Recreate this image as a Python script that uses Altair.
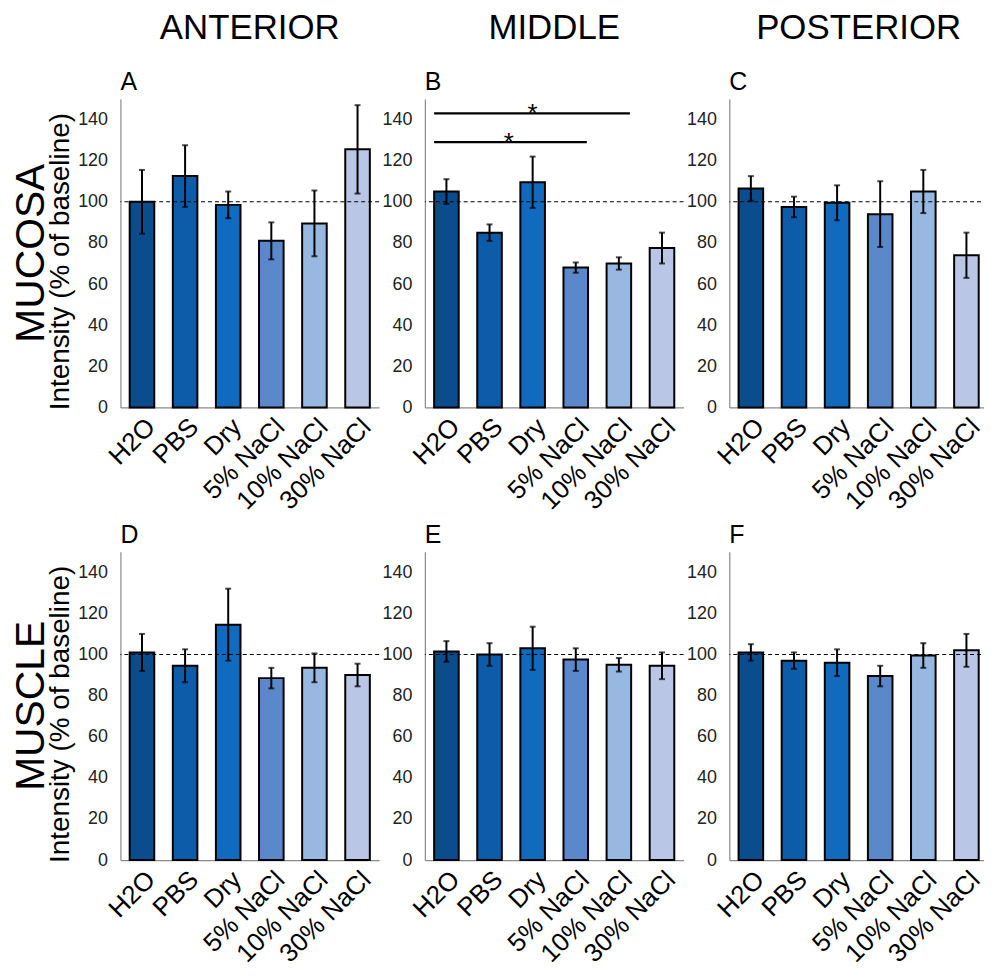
import altair as alt
import pandas as pd

categories = ["H2O", "PBS", "Dry", "5% NaCl", "10% NaCl", "30% NaCl"]
colors = ["#0B4C8C", "#0C5CA9", "#106BBF", "#5B88CB", "#97B8E0", "#BAC6E6"]

regions = ["ANTERIOR", "MIDDLE", "POSTERIOR"]
tissues = ["MUCOSA", "MUSCLE"]
letters = ["A", "B", "C", "D", "E", "F"]

means_A = [100, 112.5, 98.5, 81, 89.5, 125.5]
err_A = [15.5, 15, 6.5, 9, 16, 21.5]
means_B = [105, 85, 109.5, 68, 70, 77.5]
err_B = [6, 4, 12.5, 2.5, 3, 7.5]
means_C = [106.5, 97.5, 99.5, 94, 105, 74]
err_C = [6, 5, 8.5, 16, 10.5, 11]
means_D = [101, 94.5, 114.5, 88.5, 93.5, 90]
err_D = [9, 8, 17.5, 5, 7, 5.5]
means_E = [101.5, 100, 103, 97.5, 95, 94.5]
err_E = [5, 5.5, 10.5, 5.5, 3.3, 6.5]
means_F = [101, 97, 96, 89.5, 99.5, 102]
err_F = [4, 4, 6.5, 5, 6, 8]

baseline = [100]
y_ticks = [0, 20, 40, 60, 80, 100, 120, 140]

# significance brackets in panel B
sig_start = ["H2O", "H2O"]
sig_end = ["10% NaCl", "5% NaCl"]
sig_y = [143, 129]

W, H = 260, 310
FONT = "Liberation Sans"
AXIS_GRAY = "#8a8a8a"


def panel(letter, means, errs, first_col, tissue=None, region=None, sig=False):
    df = pd.DataFrame({
        "cat": categories,
        "mean": means,
        "lo": [m - e for m, e in zip(means, errs)],
        "hi": [m + e for m, e in zip(means, errs)],
    })
    caps = pd.DataFrame({
        "cat": categories * 2,
        "v": list(df["lo"]) + list(df["hi"]),
    })
    xscale = alt.Scale(domain=categories, paddingInner=0.43, paddingOuter=0.215)
    xaxis = alt.Axis(title=None, labelAngle=-45, labelFontSize=26, labelFont=FONT,
                     labelColor="black", ticks=False, domainColor=AXIS_GRAY,
                     domainWidth=1.2, labelPadding=6, labelOverlap=False, labelLimit=300)
    yscale = alt.Scale(domain=[0, 150], nice=False)
    yaxis = alt.Axis(values=y_ticks, ticks=False, grid=False, domainColor=AXIS_GRAY,
                     domainWidth=1.2, labelFontSize=18, labelFont=FONT, labelColor="#222222",
                     labelPadding=13,
                     title="Intensity (% of baseline)" if first_col else None,
                     titleFontSize=28, titleFont=FONT, titleFontWeight="normal",
                     titleColor="black", titlePadding=3, titleY=H / 2 + 8)

    x = alt.X("cat:N", sort=categories, scale=xscale, axis=xaxis)

    bars = alt.Chart(df).mark_bar(stroke="black", strokeWidth=2).encode(
        x=x,
        y=alt.Y("mean:Q", scale=yscale, axis=yaxis),
        color=alt.Color("cat:N", scale=alt.Scale(domain=categories, range=colors), legend=None),
    )
    dash = alt.Chart(pd.DataFrame({"v": baseline})).mark_rule(
        color="black", strokeDash=[4, 3], strokeWidth=1.1
    ).encode(y=alt.Y("v:Q", scale=yscale, axis=yaxis))
    whisk = alt.Chart(df).mark_rule(color="black", strokeWidth=2).encode(
        x=x, y=alt.Y("lo:Q", scale=yscale, axis=yaxis), y2="hi:Q"
    )
    cap = alt.Chart(caps).mark_tick(color="black", thickness=2, size=6).encode(
        x=x, y=alt.Y("v:Q", scale=yscale, axis=yaxis)
    )
    lab = alt.Chart(pd.DataFrame({"t": [letter]})).mark_text(
        font=FONT, fontSize=25, align="left", baseline="alphabetic", color="black"
    ).encode(text="t:N", x=alt.value(0), y=alt.value(-9))
    layers = [bars, dash, whisk, cap, lab]

    if region is not None:
        layers.append(alt.Chart(pd.DataFrame({"t": [region]})).mark_text(
            font=FONT, fontSize=35, align="center", baseline="alphabetic", color="black"
        ).encode(text="t:N", x=alt.value(W / 2), y=alt.value(-60)))
    if tissue is not None:
        layers.append(alt.Chart(pd.DataFrame({"t": [tissue]})).mark_text(
            font=FONT, fontSize=41, align="center", baseline="middle", angle=270, color="black"
        ).encode(text="t:N", x=alt.value(-89), y=alt.value(H / 2)))
    if sig:
        sdf = pd.DataFrame({"s": sig_start, "e": sig_end, "y": sig_y})
        layers.append(alt.Chart(sdf).mark_rule(color="black", strokeWidth=2.2).encode(
            x=alt.X("s:N", sort=categories, scale=xscale, axis=xaxis, bandPosition=0),
            x2=alt.X2("e:N", bandPosition=0.95),
            y=alt.Y("y:Q", scale=yscale, axis=yaxis),
        ))
        star1 = pd.DataFrame({"c": ["Dry"], "y": [sig_y[0]], "t": ["*"]})
        star2 = pd.DataFrame({"c": ["Dry"], "y": [sig_y[1]], "t": ["*"]})
        layers.append(alt.Chart(star1).mark_text(
            font=FONT, fontSize=26, baseline="alphabetic", color="black", dy=9
        ).encode(x=alt.X("c:N", sort=categories, scale=xscale, axis=xaxis),
                 y=alt.Y("y:Q", scale=yscale, axis=yaxis), text="t:N"))
        layers.append(alt.Chart(star2).mark_text(
            font=FONT, fontSize=26, baseline="alphabetic", color="black", dy=9, dx=-24
        ).encode(x=alt.X("c:N", sort=categories, scale=xscale, axis=xaxis),
                 y=alt.Y("y:Q", scale=yscale, axis=yaxis), text="t:N"))

    return alt.layer(*layers).properties(width=W, height=H)


row1 = alt.hconcat(
    panel("A", means_A, err_A, True, tissue=tissues[0], region=regions[0]),
    panel("B", means_B, err_B, False, region=regions[1], sig=True),
    panel("C", means_C, err_C, False, region=regions[2]),
    spacing=1,
)
row2 = alt.hconcat(
    panel("D", means_D, err_D, True, tissue=tissues[1]),
    panel("E", means_E, err_E, False),
    panel("F", means_F, err_F, False),
    spacing=1,
)

chart = alt.vconcat(row1, row2, spacing=8).properties(
    padding={"left": 3, "top": 1, "right": -5, "bottom": -4}
).configure_view(stroke=None)

chart.save("out.html", embed_options={"renderer": "svg", "actions": False})
